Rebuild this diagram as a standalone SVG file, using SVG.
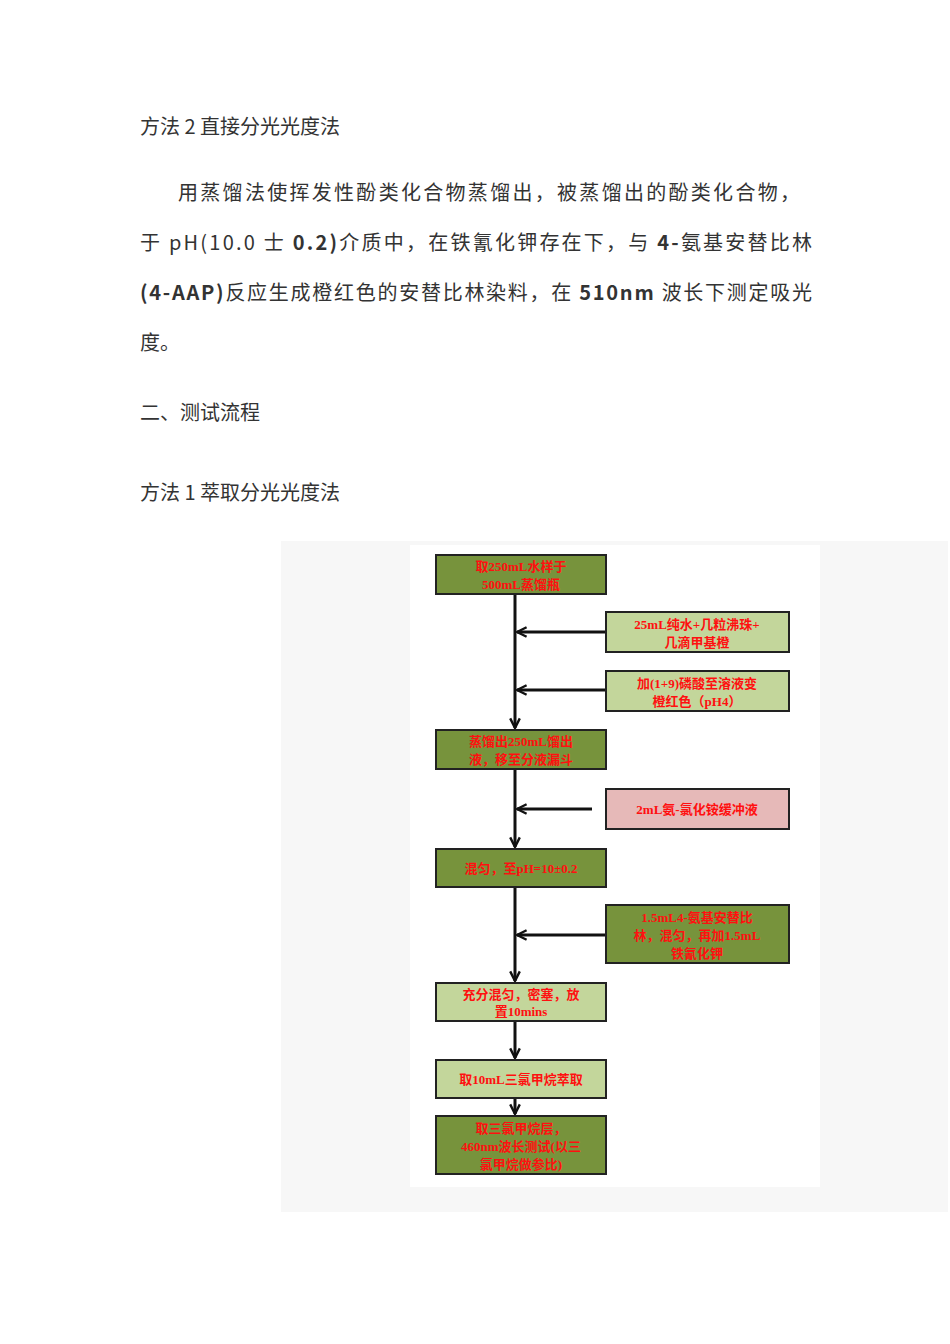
<svg xmlns="http://www.w3.org/2000/svg" width="950" height="1344" viewBox="0 0 950 1344">
<style>
.t{font-family:"Noto Sans CJK SC","Noto Sans",sans-serif;font-size:20px;fill:#333}
.b{font-family:"Liberation Serif","Noto Sans CJK SC",serif;font-size:13px;font-weight:bold;fill:#ff1010;text-anchor:middle}
.dg{fill:#77933C;stroke:#222;stroke-width:2}
.lg{fill:#C3D69B;stroke:#222;stroke-width:2}
.pk{fill:#E6B9B8;stroke:#222;stroke-width:2}
.c{stroke:#111;stroke-width:3;fill:none}
</style>
<defs><marker id="a" viewBox="0 0 10 10" refX="9" refY="5" markerWidth="4" markerHeight="4" orient="auto"><path d="M1,1 L9,5 L1,9" fill="none" stroke="#111" stroke-width="2"/></marker></defs>
<rect width="950" height="1344" fill="#fff"/>
<text class="t" x="140" y="134">方法 2 直接分光光度法</text>
<text class="t" x="178" y="200" textLength="622">用蒸馏法使挥发性酚类化合物蒸馏出，被蒸馏出的酚类化合物，</text>
<text class="t" x="140" y="250" textLength="672">于 pH(10.0 士 <tspan font-weight="bold">0.2)</tspan>介质中，在铁氰化钾存在下，与 <tspan font-weight="bold">4-</tspan>氨基安替比林</text>
<text class="t" x="140" y="300" textLength="672"><tspan font-weight="bold">(4-AAP)</tspan>反应生成橙红色的安替比林染料，在 <tspan font-weight="bold">510nm</tspan> 波长下测定吸光</text>
<text class="t" x="140" y="350">度。</text>
<text class="t" x="140" y="420">二、测试流程</text>
<text class="t" x="140" y="500">方法 1 萃取分光光度法</text>
<rect x="281" y="541" width="667" height="671" fill="#f7f7f7"/>
<rect x="410" y="545" width="410" height="642" fill="#fff"/>
<g id="connectors">
<line class="c" x1="515" y1="594" x2="515" y2="728" marker-end="url(#a)"/>
<line class="c" x1="515" y1="769" x2="515" y2="847" marker-end="url(#a)"/>
<line class="c" x1="515" y1="887" x2="515" y2="981" marker-end="url(#a)"/>
<line class="c" x1="515" y1="1021" x2="515" y2="1058" marker-end="url(#a)"/>
<line class="c" x1="515" y1="1098" x2="515" y2="1114" marker-end="url(#a)"/>
<line class="c" x1="606" y1="632" x2="517" y2="632" marker-end="url(#a)"/>
<line class="c" x1="606" y1="690" x2="517" y2="690" marker-end="url(#a)"/>
<line class="c" x1="592" y1="809" x2="517" y2="809" marker-end="url(#a)"/>
<line class="c" x1="606" y1="935" x2="517" y2="935" marker-end="url(#a)"/>
</g>
<g id="n1"><rect class="dg" x="436" y="555" width="170" height="39"/><text class="b" x="521" y="571">取250mL水样于</text><text class="b" x="521" y="589">500mL蒸馏瓶</text></g>
<g id="n2"><rect class="lg" x="606" y="612" width="183" height="40"/><text class="b" x="697" y="629">25mL纯水+几粒沸珠+</text><text class="b" x="697" y="647">几滴甲基橙</text></g>
<g id="n3"><rect class="lg" x="606" y="671" width="183" height="40"/><text class="b" x="697" y="688">加(1+9)磷酸至溶液变</text><text class="b" x="697" y="706">橙红色（pH4）</text></g>
<g id="n4"><rect class="dg" x="436" y="730" width="170" height="39"/><text class="b" x="521" y="746">蒸馏出250mL馏出</text><text class="b" x="521" y="764">液，移至分液漏斗</text></g>
<g id="n5"><rect class="pk" x="606" y="789" width="183" height="40"/><text class="b" x="697" y="814">2mL氨-氯化铵缓冲液</text></g>
<g id="n6"><rect class="dg" x="436" y="849" width="170" height="38"/><text class="b" x="521" y="873">混匀，至pH=10±0.2</text></g>
<g id="n7"><rect class="dg" x="606" y="905" width="183" height="58"/><text class="b" x="697" y="922">1.5mL4-氨基安替比</text><text class="b" x="697" y="940">林，混匀，再加1.5mL</text><text class="b" x="697" y="958">铁氰化钾</text></g>
<g id="n8"><rect class="lg" x="436" y="983" width="170" height="38"/><text class="b" x="521" y="999">充分混匀，密塞，放</text><text class="b" x="521" y="1016">置10mins</text></g>
<g id="n9"><rect class="lg" x="436" y="1060" width="170" height="38"/><text class="b" x="521" y="1084">取10mL三氯甲烷萃取</text></g>
<g id="n10"><rect class="dg" x="436" y="1116" width="170" height="58"/><text class="b" x="521" y="1133">取三氯甲烷层，</text><text class="b" x="521" y="1151">460nm波长测试(以三</text><text class="b" x="521" y="1169">氯甲烷做参比)</text></g>
</svg>
